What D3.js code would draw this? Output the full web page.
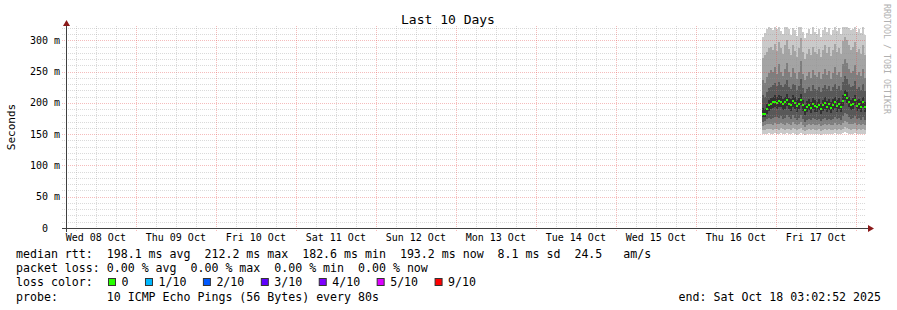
<!DOCTYPE html>
<html>
<head>
<meta charset="utf-8">
<script src="https://cdn.jsdelivr.net/npm/d3@7"></script>
<style>
  body { margin: 0; background: #fff; }
  text { font-family: "DejaVu Sans Mono", monospace; }
</style>
</head>
<body>
<svg id="chart" width="897" height="310"></svg>
<script>
//
// Data
//

// graph period (UTC)
var periodEnd = Date.UTC(2025, 9, 18, 3, 2, 52)
var periodStart = Date.UTC(2025, 9, 8, 3, 2, 52)
// seconds per consolidated step
var stepSec = 2160

var dayLabels = ['Wed 08 Oct', 'Thu 09 Oct', 'Fri 10 Oct', 'Sat 11 Oct', 'Sun 12 Oct',
  'Mon 13 Oct', 'Tue 14 Oct', 'Wed 15 Oct', 'Thu 16 Oct', 'Fri 17 Oct']
var yTicks = [0, 50, 100, 150, 200, 250, 300]
var yTickLabels = ['0', '50 m', '100 m', '150 m', '200 m', '250 m', '300 m']

// median rtt per step (ms), last step ends at periodEnd
var median = [183, 182, 190, 196, 199, 201, 202, 200, 203, 202,
  198, 201, 204, 199, 197, 203, 200, 195, 199, 205,
  196, 188, 194, 197, 192, 199, 195, 193, 197, 190,
  196, 200, 194, 198, 192, 197, 201, 195, 199, 193,
  203, 212, 208, 201, 196, 199, 204, 195, 198, 194,
  201, 193]

// sorted 10 pings per step (ms)
var pings = [
  [150, 156, 163, 170, 178, 192, 212, 236, 272, 305],
  [151, 157, 164, 171, 177, 190, 210, 232, 276, 312],
  [150, 158, 166, 174, 183, 199, 218, 242, 282, 318],
  [152, 159, 167, 176, 187, 205, 224, 248, 288, 321],
  [151, 158, 166, 175, 190, 208, 226, 252, 290, 320],
  [150, 157, 165, 176, 192, 210, 228, 250, 284, 316],
  [152, 159, 168, 178, 193, 212, 232, 258, 295, 322],
  [151, 158, 167, 177, 191, 209, 227, 246, 283, 319],
  [150, 157, 166, 176, 194, 213, 234, 262, 298, 322],
  [152, 160, 168, 179, 193, 211, 228, 250, 288, 315],
  [151, 158, 166, 175, 188, 207, 225, 243, 278, 310],
  [150, 157, 165, 176, 191, 210, 230, 255, 292, 321],
  [152, 159, 168, 180, 195, 214, 236, 264, 301, 322],
  [151, 158, 167, 177, 190, 208, 226, 249, 286, 318],
  [150, 157, 165, 174, 187, 206, 223, 241, 276, 309],
  [152, 160, 169, 180, 194, 212, 231, 256, 292, 320],
  [151, 158, 166, 176, 191, 209, 228, 248, 283, 316],
  [149, 156, 164, 172, 186, 204, 220, 239, 274, 307],
  [151, 158, 167, 176, 190, 208, 227, 250, 288, 321],
  [152, 160, 170, 181, 197, 215, 238, 267, 304, 322],
  [150, 157, 165, 174, 187, 205, 224, 246, 281, 313],
  [149, 155, 162, 170, 180, 197, 216, 236, 270, 304],
  [150, 157, 164, 172, 185, 203, 222, 243, 279, 312],
  [151, 158, 166, 175, 188, 206, 225, 249, 286, 318],
  [150, 156, 164, 173, 184, 201, 219, 240, 276, 310],
  [151, 158, 167, 176, 190, 208, 228, 252, 290, 321],
  [150, 157, 165, 174, 186, 204, 223, 245, 282, 314],
  [150, 156, 164, 173, 185, 202, 221, 242, 278, 311],
  [151, 158, 166, 175, 188, 206, 226, 250, 287, 319],
  [149, 155, 163, 171, 182, 199, 217, 238, 273, 306],
  [150, 157, 165, 174, 187, 205, 224, 247, 284, 317],
  [151, 158, 167, 176, 191, 209, 229, 254, 293, 322],
  [150, 157, 164, 173, 185, 203, 222, 244, 280, 313],
  [151, 158, 166, 175, 189, 207, 227, 251, 289, 320],
  [150, 156, 164, 172, 184, 201, 219, 239, 275, 308],
  [151, 157, 165, 174, 188, 206, 225, 248, 285, 317],
  [152, 159, 168, 178, 192, 210, 230, 257, 295, 322],
  [150, 157, 165, 174, 186, 204, 223, 245, 282, 315],
  [151, 158, 166, 176, 190, 208, 227, 250, 288, 320],
  [150, 156, 164, 173, 185, 202, 220, 242, 278, 311],
  [152, 159, 168, 179, 195, 213, 234, 262, 299, 322],
  [153, 161, 171, 184, 204, 221, 243, 270, 305, 322],
  [152, 160, 170, 182, 200, 217, 238, 264, 300, 321],
  [151, 158, 167, 177, 193, 210, 230, 255, 292, 320],
  [150, 157, 166, 175, 188, 205, 225, 248, 284, 316],
  [151, 158, 166, 176, 190, 208, 227, 251, 289, 319],
  [152, 159, 168, 179, 196, 213, 235, 261, 298, 322],
  [150, 157, 165, 174, 187, 204, 223, 245, 281, 314],
  [151, 158, 166, 176, 190, 207, 226, 250, 287, 318],
  [150, 157, 164, 173, 186, 203, 221, 243, 279, 312],
  [151, 158, 167, 177, 193, 210, 230, 254, 292, 321],
  [150, 156, 164, 173, 186, 201, 219, 240, 277, 309]
]

// legend
var rttLegend = 'median rtt:  198.1 ms avg  212.2 ms max  182.6 ms min  193.2 ms now  8.1 ms sd  24.5   am/s'
var lossLegend = 'packet loss: 0.00 % avg  0.00 % max  0.00 % min  0.00 % now'
var lossLabels = ['0', '1/10', '2/10', '3/10', '4/10', '5/10', '9/10']
var lossColors = ['#26ff00', '#00b8ff', '#0059ff', '#5e00ff', '#7e00ff', '#dd00ff', '#ff0000']
var probeLegend = 'probe:       10 ICMP Echo Pings (56 Bytes) every 80s'
var endLegend = 'end: Sat Oct 18 03:02:52 2025'

//
// Configuration
//

var smokeColors = ['#cacaca', '#a4a4a4', '#7e7e7e', '#585858', '#323232']
var colorMinor = 'rgba(150,150,150,0.35)'
var colorMajor = 'rgba(230,80,80,0.38)'
var colorAxis = '#404040'
var colorArrow = '#8b1a1a'
var charW = 6.98

var svg = d3.select('#chart')
var x = d3.scaleUtc().domain([periodStart, periodEnd]).range([66, 866])
var y = d3.scaleLinear().domain([0, 323]).range([228, 26])

//
// Smoke
//

var smokeStart = periodEnd - median.length * stepSec * 1000
var steps = pings.map(function(p, i) {
  return { t0: smokeStart + i * stepSec * 1000, t1: smokeStart + (i + 1) * stepSec * 1000, p: p, m: median[i] }
})

var smoke = svg.append('g').attr('shape-rendering', 'crispEdges')
smokeColors.forEach(function(color, k) {
  smoke.selectAll(null)
    .data(steps)
    .enter()
    .append('rect')
    .attr('x', function(d) { return x(d.t0) })
    .attr('width', function(d) { return x(d.t1) - x(d.t0) })
    .attr('y', function(d) { return y(d.p[9 - k]) })
    .attr('height', function(d) { return y(d.p[k]) - y(d.p[9 - k]) })
    .attr('fill', color)
})

smoke.selectAll(null)
  .data(steps)
  .enter()
  .append('rect')
  .attr('x', function(d) { return x(d.t0) })
  .attr('width', function(d) { return x(d.t1) - x(d.t0) })
  .attr('y', function(d) { return y(d.m) - 1 })
  .attr('height', 2)
  .attr('fill', lossColors[0])

//
// Grid
//

var grid = svg.append('g').attr('fill', 'none').attr('stroke-dasharray', '1,1').attr('shape-rendering', 'crispEdges')
var hMinor = d3.range(10, 321, 10).filter(function(v) { return v % 50 !== 0 })
grid.selectAll(null).data(hMinor).enter().append('line')
  .attr('x1', 62).attr('x2', 866)
  .attr('y1', function(v) { return Math.round(y(v)) + 0.5 })
  .attr('y2', function(v) { return Math.round(y(v)) + 0.5 })
  .attr('stroke', colorMinor)
grid.selectAll(null).data(yTicks.slice(1)).enter().append('line')
  .attr('x1', 62).attr('x2', 866)
  .attr('y1', function(v) { return Math.round(y(v)) + 0.5 })
  .attr('y2', function(v) { return Math.round(y(v)) + 0.5 })
  .attr('stroke', colorMajor)

var sixHours = d3.utcHour.every(6).range(new Date(periodStart), new Date(periodEnd))
grid.selectAll(null).data(sixHours.filter(function(d) { return d.getUTCHours() !== 0 })).enter().append('line')
  .attr('x1', function(d) { return Math.round(x(d)) + 0.5 })
  .attr('x2', function(d) { return Math.round(x(d)) + 0.5 })
  .attr('y1', 26).attr('y2', 231)
  .attr('stroke', colorMinor)
grid.selectAll(null).data(sixHours.filter(function(d) { return d.getUTCHours() === 0 })).enter().append('line')
  .attr('x1', function(d) { return Math.round(x(d)) + 0.5 })
  .attr('x2', function(d) { return Math.round(x(d)) + 0.5 })
  .attr('y1', 26).attr('y2', 231)
  .attr('stroke', colorMajor)

//
// Axes
//

svg.append('line').attr('x1', 62).attr('x2', 870).attr('y1', 228.5).attr('y2', 228.5).attr('stroke', colorAxis)
svg.append('line').attr('x1', 66.5).attr('x2', 66.5).attr('y1', 232).attr('y2', 24).attr('stroke', colorAxis)
svg.append('path').attr('d', 'M868,225 L874,228.5 L868,232 Z').attr('fill', colorArrow)
svg.append('path').attr('d', 'M63,26 L66.5,20 L70,26 Z').attr('fill', colorArrow)

svg.append('g').selectAll(null).data(yTicks).enter().append('text')
  .attr('x', function(v, i) { return v === 0 ? 60 - 2 * 6 : 60 })
  .attr('y', function(v) { return y(v) + 3.5 })
  .attr('text-anchor', 'end')
  .attr('font-size', '10px')
  .attr('fill', '#000')
  .text(function(v, i) { return yTickLabels[i] })

var noons = dayLabels.map(function(l, i) { return Date.UTC(2025, 9, 8 + i, 12) })
svg.append('g').selectAll(null).data(noons).enter().append('text')
  .attr('x', function(t) { return x(t) })
  .attr('y', 241)
  .attr('text-anchor', 'middle')
  .attr('font-size', '10px')
  .text(function(t, i) { return dayLabels[i] })

svg.append('text')
  .attr('transform', 'translate(15,127) rotate(-90)')
  .attr('text-anchor', 'middle')
  .attr('font-size', '11px')
  .text('Seconds')

svg.append('text')
  .attr('x', 448).attr('y', 24)
  .attr('text-anchor', 'middle')
  .attr('font-size', '13px')
  .text('Last 10 Days')

svg.append('text')
  .attr('transform', 'translate(884,4) rotate(90)')
  .attr('font-size', '8.3px')
  .attr('fill', '#b0b0b0')
  .text('RRDTOOL / TOBI OETIKER')

//
// Legend
//

function legendLine(str, yy) {
  svg.append('text')
    .attr('x', 16).attr('y', yy)
    .attr('font-size', '11.6px')
    .style('white-space', 'pre')
    .text(str)
}
legendLine(rttLegend, 257.5)
legendLine(lossLegend, 272)
legendLine('loss color:', 286)
legendLine(probeLegend, 300.5)

var cursor = 108
lossLabels.forEach(function(label, i) {
  svg.append('rect')
    .attr('x', cursor + 0.5).attr('y', 278.5)
    .attr('width', 7).attr('height', 7)
    .attr('fill', lossColors[i])
    .attr('stroke', '#333')
  svg.append('text')
    .attr('x', cursor + 13.5).attr('y', 286)
    .attr('font-size', '11.6px')
    .text(label)
  cursor += 13.5 + label.length * charW + 16.5
})

svg.append('text')
  .attr('x', 881).attr('y', 300.5)
  .attr('text-anchor', 'end')
  .attr('font-size', '11.6px')
  .text(endLegend)
</script>
</body>
</html>
